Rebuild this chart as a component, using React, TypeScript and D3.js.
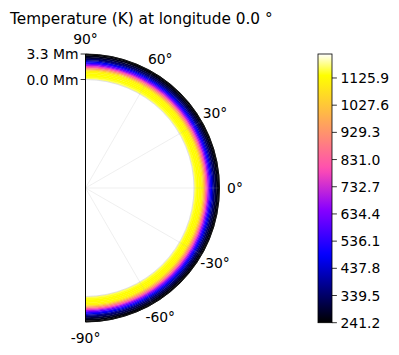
import React from "react";
import * as d3 from "d3";

const titleText = "Temperature (K) at longitude 0.0 °";
// altitude cell edges (Mm) and temperature (K) per cell, uniform in latitude
const altitudeEdges = [0.05, 0.2, 0.4, 0.6, 0.8, 1.0, 1.15, 1.3, 1.45, 1.6, 1.75, 1.9, 2.05, 2.2, 2.35, 2.5, 2.7, 2.9, 3.1, 3.3];
const temperatures = [1165, 1145, 1135, 1130, 1125, 1100, 1040, 960, 870, 780, 690, 610, 530, 460, 400, 345, 300, 265, 245];
const thetaTicks = [90, 60, 30, 0, -30, -60, -90];
const radialTicks = [0.0, 3.3];
const radialTickLabels = ["0.0 Mm", "3.3 Mm"];
const cbTicks = [241.2, 339.5, 437.8, 536.1, 634.4, 732.7, 831.0, 929.3, 1027.6, 1125.9];
const vMin = 241.2;
const vMax = 1212.6;

function gnuplot2(x: number): string {
  const c = (v: number) => Math.max(0, Math.min(1, v));
  const r = c(x / 0.32 - 0.78125);
  const g = c(2 * x - 0.84);
  let b;
  if (x < 0.25) b = 4 * x;
  else if (x < 0.92) b = -2 * x + 1.84;
  else b = x / 0.08 - 11.5;
  b = c(b);
  return d3.rgb(r * 255, g * 255, b * 255).formatHex();
}

export default function App() {
  const W = 399, H = 355;
  const cx = 85.5, cy = 188;
  const rScale = d3.scaleLinear().domain([0, 3.3]).range([108.5, 134]);
  const Rout = rScale(3.3);
  const colorNorm = d3.scaleLinear().domain([vMin, vMax]).range([0, 1]).clamp(true);
  const toA = (deg: number) => ((90 - deg) * Math.PI) / 180;
  const arc = d3.arc<any>();
  const font = "DejaVu Sans, sans-serif";

  const cbX = 318, cbW = 14, cbTop = 54, cbBottom = 322.7;
  const cbScale = d3.scaleLinear().domain([vMin, vMax]).range([cbBottom, cbTop]);
  const stops = d3.range(0, 1.0001, 0.02);

  const gridColor = "#b0b0b0";
  return (
    <svg width={W} height={H} style={{ position: "absolute", left: 0, top: 0, background: "#fff" }} fontFamily={font}>
      <defs>
        <linearGradient id="cbgrad" x1="0" y1="1" x2="0" y2="0">
          {stops.map((s, i) => (
            <stop key={i} offset={s} stopColor={gnuplot2(s)} />
          ))}
        </linearGradient>
      </defs>
      <text x={10} y={24} fontSize={15.3} fill="#000">{titleText}</text>

      <g transform={`translate(${cx},${cy})`}>
        {temperatures.map((t, i) => (
          <path
            key={i}
            d={arc({
              innerRadius: rScale(altitudeEdges[i]),
              outerRadius: rScale(altitudeEdges[i + 1]) + 0.3,
              startAngle: toA(90),
              endAngle: toA(-90),
            }) as string}
            fill={gnuplot2(colorNorm(t))}
          />
        ))}
        {/* grid */}
        {thetaTicks.filter(t => Math.abs(t) < 90).map(t => (
          <line key={t} x1={0} y1={0} x2={Rout * Math.cos((t * Math.PI) / 180)} y2={-Rout * Math.sin((t * Math.PI) / 180)}
            stroke={gridColor} strokeOpacity={0.25} strokeWidth={0.8} />
        ))}
        {radialTicks.map(r => (
          <path key={r} d={arc({ innerRadius: rScale(r), outerRadius: rScale(r), startAngle: toA(90), endAngle: toA(-90) }) as string}
            fill="none" stroke={gridColor} strokeOpacity={0.25} strokeWidth={0.8} />
        ))}
        {/* spines */}
        <line x1={0} y1={-Rout} x2={0} y2={Rout} stroke="#000" strokeWidth={1} />
        <path d={`M0,${-Rout} A${Rout},${Rout} 0 0 1 0,${Rout}`} fill="none" stroke="#000" strokeWidth={0.8} />
        {/* theta labels */}
        {thetaTicks.map(t => {
          const rl = Rout + 15.5;
          const a = (t * Math.PI) / 180;
          return (
            <text key={t} x={rl * Math.cos(a)} y={-rl * Math.sin(a)} fontSize={13.9} textAnchor="middle" dominantBaseline="central" fill="#000">
              {`${t}°`}
            </text>
          );
        })}
        {/* radial ticks */}
        {radialTicks.map((r, i) => (
          <g key={r} transform={`translate(0,${-rScale(r)})`}>
            <line x1={-4.9} x2={0} y1={0} y2={0} stroke="#000" strokeWidth={0.8} />
            <text x={-7} y={0} fontSize={13.9} textAnchor="end" dominantBaseline="central" fill="#000">{radialTickLabels[i]}</text>
          </g>
        ))}
      </g>

      {/* colorbar */}
      <rect x={cbX} y={cbTop} width={cbW} height={cbBottom - cbTop} fill="url(#cbgrad)" stroke="#000" strokeWidth={0.8} />
      {cbTicks.map(v => (
        <g key={v} transform={`translate(${cbX + cbW},${cbScale(v)})`}>
          <line x1={0} x2={4.9} y1={0} y2={0} stroke="#000" strokeWidth={0.8} />
          <text x={8.5} y={0} fontSize={13.9} dominantBaseline="central" fill="#000">{v.toFixed(1)}</text>
        </g>
      ))}
    </svg>
  );
}
